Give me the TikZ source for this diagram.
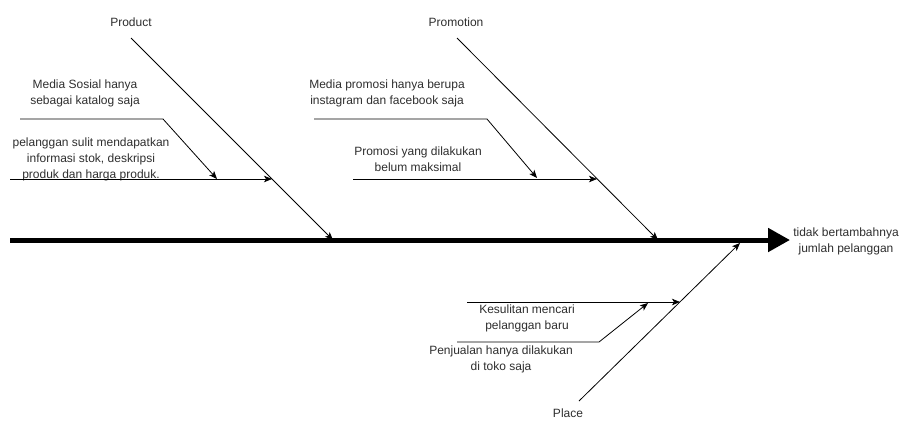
\documentclass[tikz,border=0pt]{standalone}
\usepackage{fontspec}
\setmainfont{Liberation Sans}
\usetikzlibrary{arrows.meta}
\begin{document}
\begin{tikzpicture}[x=1pt,y=-1pt,
  lbl/.style={font=\fontsize{12}{16}\selectfont, text=black!82, align=center, inner sep=0pt},
  bone/.style={draw=black, line width=0.8pt, -{Stealth[length=8pt,width=6.5pt,inset=2pt]}},
  spine/.style={draw=black, line width=5pt, -{Triangle[length=22pt,width=23pt]}}]
\useasboundingbox (0,0) rectangle (899,421);

% main spine and effect
\coordinate (tail) at (10,240);
\coordinate (head) at (790,240);
\draw[spine] (tail) -- (head);
\node[lbl] (effect) at (846,241) {tidak bertambahnya\\jumlah pelanggan};

% Product
\node[lbl] (product) at (131,22) {Product};
\coordinate (prodTop) at (131,38);
\coordinate (prodEnd) at (333,240);
\draw[bone] (prodTop) -- (prodEnd);
\node[lbl] (p1) at (85,93) {Media Sosial hanya\\sebagai katalog saja};
\coordinate (p1a) at (20,119);
\coordinate (p1b) at (163,119);
\coordinate (p1c) at (217,179);
\draw[bone] (p1a) -- (p1b) -- (p1c);
\node[lbl] (p2) at (91,159) {pelanggan sulit mendapatkan\\informasi stok, deskripsi\\produk dan harga produk.};
\coordinate (p2a) at (10,179);
\coordinate (p2c) at (272,179);
\draw[bone] (p2a) -- (p2c);

% Promotion
\node[lbl] (promotion) at (456,22) {Promotion};
\coordinate (promTop) at (457,38);
\coordinate (promEnd) at (658,240);
\draw[bone] (promTop) -- (promEnd);
\node[lbl] (m1) at (387,93) {Media promosi hanya berupa\\instagram dan facebook saja};
\coordinate (m1a) at (314,119);
\coordinate (m1b) at (487,119);
\coordinate (m1c) at (537,178);
\draw[bone] (m1a) -- (m1b) -- (m1c);
\node[lbl] (m2) at (418,159) {Promosi yang dilakukan\\belum maksimal};
\coordinate (m2a) at (353,179);
\coordinate (m2c) at (597,179);
\draw[bone] (m2a) -- (m2c);

% Place
\node[lbl] (place) at (568,413) {Place};
\coordinate (plBot) at (579,401);
\coordinate (plEnd) at (740,243);
\draw[bone] (plBot) -- (plEnd);
\node[lbl] (l1) at (527,318) {Kesulitan mencari\\pelanggan baru};
\coordinate (l1a) at (467,302);
\coordinate (l1c) at (680,302);
\draw[bone] (l1a) -- (l1c);
\node[lbl] (l2) at (501,359) {Penjualan hanya dilakukan\\di toko saja};
\coordinate (l2a) at (457,342);
\coordinate (l2b) at (599,342);
\coordinate (l2c) at (648,303);
\draw[bone] (l2a) -- (l2b) -- (l2c);
\end{tikzpicture}
\end{document}
